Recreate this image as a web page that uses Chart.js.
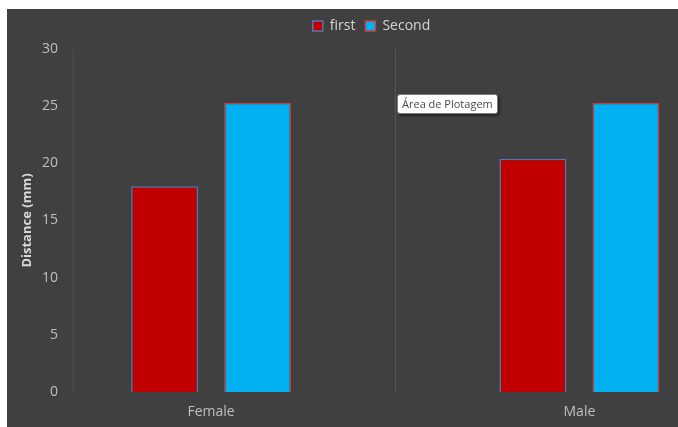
<!DOCTYPE html>
<html>
<head>
<meta charset="utf-8">
<script src="https://cdn.jsdelivr.net/npm/chart.js@4"></script>
<style>
  html, body { margin: 0; padding: 0; background: #ffffff; width: 678px; height: 427px; overflow: hidden; }
  #wrap { position: absolute; left: 7px; top: 9px; width: 671px; height: 418px; background: #404040; }
  #tip { position: absolute; left: 397px; top: 94px; height: 18px; padding: 0 4px; line-height: 18px;
         background: #ffffff; border: 1px solid #7a7a7a; border-radius: 3px; box-shadow: 2px 2px 3px rgba(0,0,0,0.45);
         font-family: "Open Sans", sans-serif; font-size: 11px; color: #4a4a4a; white-space: nowrap; }
</style>
</head>
<body>
<div id="wrap"><canvas id="c"></canvas></div>
<div id="tip">Área de Plotagem</div>
<script>
const categories = ['Female', 'Male'];
const seriesNames = ['first', 'Second'];
const firstValues = [18.0, 20.4];
const secondValues = [25.3, 25.3];
const yTicks = [0, 5, 10, 15, 20, 25, 30];
const yTitle = 'Distance (mm)';

const font = "'Open Sans', sans-serif";

const legendTweak = {
  id: 'legendTweak',
  afterInit(chart) {
    const lg = chart.legend;
    if (lg) {
      const orig = lg.fit;
      lg.fit = function () { orig.call(this); this.height += 6; };
    }
  },
  afterLayout(chart) {
    const lg = chart.legend;
    if (lg) { lg.left += 33; lg.right += 33; }
  }
};

new Chart(document.getElementById('c'), {
  type: 'bar',
  plugins: [legendTweak],
  data: {
    datasets: [
      {
        label: seriesNames[0],
        data: categories.map((c, i) => ({ x: i, y: firstValues[i] })),
        backgroundColor: '#c00000',
        borderColor: 'rgba(80,130,200,0.9)',
        borderWidth: 1.5
      },
      {
        label: seriesNames[1],
        data: categories.map((c, i) => ({ x: i, y: secondValues[i] })),
        backgroundColor: '#00b0f0',
        borderColor: 'rgba(215,60,60,0.9)',
        borderWidth: 1.5
      }
    ]
  },
  options: {
    responsive: true,
    maintainAspectRatio: false,
    animation: false,
    categoryPercentage: 1.01,
    barPercentage: 0.72,
    layout: { padding: { left: 0, right: 8, top: 0, bottom: 0 } },
    plugins: {
      tooltip: { enabled: false },
      legend: {
        position: 'top',
        labels: {
          color: '#d4d4d4',
          font: { family: font, size: 14 },
          boxWidth: 10,
          boxHeight: 10,
          padding: 10
        }
      }
    },
    scales: {
      x: {
        type: 'linear',
        offset: false,
        min: -0.375,
        max: 1.246,
        afterBuildTicks: (scale) => {
          scale.ticks = [{ value: 0 }, { value: 0.5 }, { value: 1 }];
        },
        afterFit: (scale) => { scale.height = 35; },
        ticks: {
          color: '#bfbfbf',
          font: { family: font, size: 14 },
          padding: 12,
          autoSkip: false,
          maxRotation: 0,
          callback: (v) => (Number.isInteger(v) ? categories[v] : '')
        },
        grid: {
          offset: false,
          drawTicks: false,
          color: (ctx) => (ctx.tick && ctx.tick.value === 0.5 ? '#555555' : 'rgba(0,0,0,0)'),
          lineWidth: 1
        },
        border: { display: false }
      },
      y: {
        min: 0,
        max: 30,
        afterBuildTicks: (scale) => {
          scale.ticks = yTicks.map(v => ({ value: v }));
        },
        afterFit: (scale) => { scale.width = 66; },
        ticks: {
          color: '#bfbfbf',
          font: { family: font, size: 14 },
          padding: 15
        },
        grid: { display: false, drawTicks: false },
        border: { display: true, color: '#4d4d4d', width: 1 },
        title: {
          display: true,
          text: yTitle,
          color: '#d9d9d9',
          font: { family: font, size: 13, weight: 'bold' },
          padding: { top: 12, bottom: 0 }
        }
      }
    }
  }
});
</script>
</body>
</html>
